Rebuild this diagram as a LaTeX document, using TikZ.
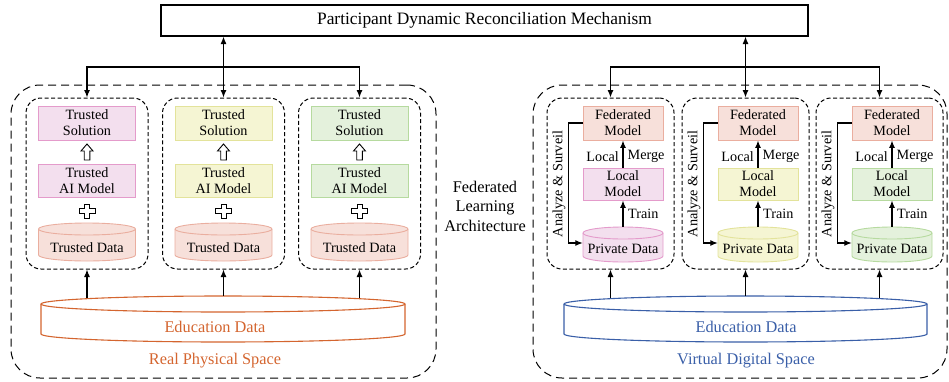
\documentclass[tikz,border=0pt]{standalone}
\usepackage{fontspec}
\setmainfont{Liberation Serif}
\usetikzlibrary{arrows.meta,calc}

\definecolor{pinkF}{HTML}{F3DFEE}
\definecolor{pinkD}{HTML}{E49BCB}
\definecolor{yelF}{HTML}{F5F5D3}
\definecolor{yelD}{HTML}{E3E39B}
\definecolor{grnF}{HTML}{E4F1DC}
\definecolor{grnD}{HTML}{B6DA9F}
\definecolor{salF}{HTML}{F7E0DA}
\definecolor{salD}{HTML}{EAAE9F}
\definecolor{orgT}{HTML}{D4652F}
\definecolor{bluT}{HTML}{3A5FA8}

\newcommand\fsmall{\fontsize{14.2}{17}\selectfont}
\newcommand\fbig{\fontsize{16.3}{19.5}\selectfont}
\newcommand\ftop{\fontsize{17.4}{20}\selectfont}

\begin{document}
\begin{tikzpicture}[x=1pt,y=-1pt,
  tip/.tip={Latex[length=7.5pt,width=6pt]},
  conn/.style={line width=1.2pt,-tip},
  biconn/.style={line width=1.2pt,tip-tip},
  topbox/.style={draw,line width=1.1pt,minimum width=647,minimum height=31,inner sep=0,font=\ftop},
  outerbox/.style={draw,line width=1pt,dash pattern=on 8pt off 5pt,rounded corners=29pt,inner sep=0},
  innerbox/.style={draw,line width=1pt,dash pattern=on 4pt off 2.5pt,rounded corners=15pt,inner sep=0,minimum height=171},
  item/.style={draw,line width=0.9pt,inner sep=0,align=center,font=\fsmall,minimum height=34},
  hollow/.style={draw,line width=0.9pt,fill=white,line join=miter},
  lbl/.style={font=\fsmall,inner sep=0}
]
\useasboundingbox (0,0) rectangle (949,381);

% outer spaces
\node[outerbox,minimum width=425,minimum height=293] (rps) at (223.5,231.5) {};
\node[outerbox,minimum width=414,minimum height=293] (vds) at (740,231.5) {};

% top mechanism
\node[topbox] (pdrm) at (484.5,20.5) {Participant Dynamic Reconciliation Mechanism};

% ---------- real physical space ----------
\foreach \i/\cx/\fc/\dc in {1/87/pinkF/pinkD,2/223.5/yelF/yelD,3/359.5/grnF/grnD}{
  \node[innerbox,minimum width=122] (lb\i) at (\cx,183.5) {};
  \node[item,fill=\fc,draw=\dc,minimum width=97] (ts\i) at (\cx,123) {Trusted\\[-1pt]Solution};
  \node[item,fill=\fc,draw=\dc,minimum width=97,minimum height=33] (am\i) at (\cx,180.5) {Trusted\\[-1pt]AI Model};
  % hollow arrow
  \draw[hollow] (\cx,144) -- (\cx+6,151) -- (\cx+2.8,151) -- (\cx+2.8,160) -- (\cx-2.8,160)
     -- (\cx-2.8,151) -- (\cx-6,151) -- cycle;
  % plus sign
  \draw[hollow] (\cx-2.5,204) -- (\cx+2.5,204) -- (\cx+2.5,208.5) -- (\cx+8,208.5) -- (\cx+8,213.5)
     -- (\cx+2.5,213.5) -- (\cx+2.5,218) -- (\cx-2.5,218) -- (\cx-2.5,213.5) -- (\cx-8,213.5)
     -- (\cx-8,208.5) -- (\cx-2.5,208.5) -- cycle;
  % trusted data cylinder
  \filldraw[fill=salF,draw=salD,line width=0.9pt] (\cx-48.5,229) -- (\cx-48.5,255)
     arc[start angle=180,end angle=0,x radius=48.5,y radius=6] -- (\cx+48.5,229)
     arc[start angle=0,end angle=-180,x radius=48.5,y radius=6] -- cycle;
  \draw[salD,line width=0.9pt] (\cx-48.5,229) arc[start angle=180,end angle=0,x radius=48.5,y radius=6];
  \node[lbl] (td\i) at (\cx,247.5) {Trusted Data};
}

% ---------- virtual digital space ----------
\foreach \i/\bx/\fc/\dc in {1/610.5/pinkF/pinkD,2/745.5/yelF/yelD,3/879.5/grnF/grnD}{
  \pgfmathsetmacro{\ix}{\bx+12.5}
  \node[innerbox,minimum width=127] (rb\i) at (\bx,183.5) {};
  \node[item,fill=salF,draw=salD,minimum width=80] (fm\i) at (\ix,123) {Federated\\[-1pt]Model};
  \node[item,fill=\fc,draw=\dc,minimum width=80,minimum height=32] (lm\i) at (\ix,184) {Local\\[-1pt]Model};
  % private data cylinder
  \filldraw[fill=\fc,draw=\dc,line width=0.9pt] (\ix-40,233) -- (\ix-40,256)
     arc[start angle=180,end angle=0,x radius=40,y radius=6] -- (\ix+40,233)
     arc[start angle=0,end angle=-180,x radius=40,y radius=6] -- cycle;
  \draw[\dc,line width=0.9pt] (\ix-40,233) arc[start angle=180,end angle=0,x radius=40,y radius=6];
  \node[inner sep=0,minimum width=80,minimum height=35] (pdc\i) at (\ix,244.5) {};
  \node[lbl] (pd\i) at (\ix,249) {Private Data};
  % flows
  \draw[conn] (pdc\i.north) -- (lm\i.south);
  \draw[conn] (lm\i.north) -- (fm\i.south);
  \node[lbl,anchor=east] (lc\i) at ($(lm\i.north)+(-4,-11)$) {Local};
  \node[lbl,anchor=west] (mg\i) at ($(lm\i.north)+(4.5,-11)$) {Merge};
  \node[lbl,anchor=west] (tr\i) at ($(lm\i.south)+(5,13)$) {Train};
  \draw[conn] (fm\i.west) -- ++(-14,0) |- ($(pdc\i.west)+(0,-1.5)$);
  \node[lbl,rotate=90] (as\i) at (\ix-64,184) {Analyze \& Surveil};
}

% links to the mechanism
\coordinate (hl) at (0,67);
\draw[biconn] (pdrm.south -| lb2.north) -- (lb2.north);
\draw[conn] (lb2.north |- hl) -| (lb1.north);
\draw[conn] (lb2.north |- hl) -| (lb3.north);
\draw[biconn] (pdrm.south -| rb2.north) -- (rb2.north);
\draw[conn] (rb2.north |- hl) -| (rb1.north);
\draw[conn] (rb2.north |- hl) -| (rb3.north);

% education data stores
\filldraw[fill=white,draw=orgT,line width=1.1pt] (41,304) -- (41,334)
   arc[start angle=180,end angle=0,x radius=182,y radius=8] -- (405,304)
   arc[start angle=0,end angle=-180,x radius=182,y radius=8] -- cycle;
\draw[orgT,line width=1.1pt] (41,304) arc[start angle=180,end angle=0,x radius=182,y radius=8];
\node[inner sep=0,minimum width=364,minimum height=46] (edl) at (223,319) {};
\node[font=\fbig,text=orgT,inner sep=0] (edlt) at (215,327) {Education Data};
\node[font=\fbig,text=orgT,inner sep=0] (rpst) at (215,361) {Real Physical Space};

\filldraw[fill=white,draw=bluT,line width=1.1pt] (564,304) -- (564,334)
   arc[start angle=180,end angle=0,x radius=181.5,y radius=8] -- (927,304)
   arc[start angle=0,end angle=-180,x radius=181.5,y radius=8] -- cycle;
\draw[bluT,line width=1.1pt] (564,304) arc[start angle=180,end angle=0,x radius=181.5,y radius=8];
\node[inner sep=0,minimum width=363,minimum height=46] (edr) at (745.5,319) {};
\node[font=\fbig,text=bluT,inner sep=0] (edrt) at (746,327) {Education Data};
\node[font=\fbig,text=bluT,inner sep=0] (vdst) at (746,361) {Virtual Digital Space};

% data feeds into each participant
\draw[conn] ($(edl.north -| lb1.south)+(0,2.6)$) -- (lb1.south);
\draw[conn] (edl.north -| lb2.south) -- (lb2.south);
\draw[conn] ($(edl.north -| lb3.south)+(0,2.6)$) -- (lb3.south);
\draw[conn] ($(edr.north -| rb1.south)+(0,2.6)$) -- (rb1.south);
\draw[conn] (edr.north -| rb2.south) -- (rb2.south);
\draw[conn] ($(edr.north -| rb3.south)+(0,2.6)$) -- (rb3.south);

% architecture caption
\node[font=\fbig,align=center,inner sep=0] (fla) at (485,206) {Federated\\Learning\\Architecture};
\end{tikzpicture}
\end{document}
